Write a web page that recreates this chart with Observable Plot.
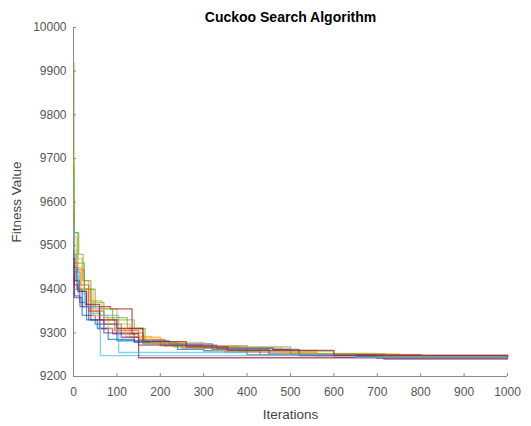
<!DOCTYPE html>
<html><head><meta charset="utf-8">
<script src="https://cdn.jsdelivr.net/npm/d3@7"></script>
<script src="https://cdn.jsdelivr.net/npm/@observablehq/plot@0.6"></script>
<style>body{margin:0;background:#fff}</style>
</head><body><div id="chart"></div>
<script>
const title = "Cuckoo Search Algorithm";
const xLabel = "Iterations";
const yLabel = "Fitness Value";
const xTicks = [0,100,200,300,400,500,600,700,800,900,1000];
const yTicks = [9200,9300,9400,9500,9600,9700,9800,9900,10000];
const colors = ["#0072BD","#D95319","#EDB120","#7E2F8E","#77AC30","#4DBEEE","#A2142F",
                "#0072BD","#D95319","#EDB120","#7E2F8E","#77AC30","#4DBEEE","#A2142F"];

// [iteration, best fitness] change points of each run (step-after)
const run01 = [[0,9600],[1,9480],[6,9420],[14,9370],[30,9330],[55,9310],[80,9285],[140,9278],[240,9262],[300,9259],[430,9250],[700,9242],[1000,9242]];
const run02 = [[0,9560],[1,9460],[10,9445],[25,9400],[40,9350],[70,9320],[110,9300],[160,9275],[250,9265],[350,9256],[560,9248],[800,9244],[1000,9244]];
const run03 = [[0,9700],[1,9520],[8,9470],[20,9420],[35,9374],[65,9355],[100,9320],[130,9290],[200,9270],[320,9260],[560,9252],[750,9246],[1000,9246]];
const run04 = [[0,9480],[2,9381],[20,9360],[40,9330],[60,9310],[90,9298],[140,9280],[200,9272],[300,9265],[460,9262],[500,9250],[715,9240],[1000,9240]];
const run05 = [[0,9920],[1,9530],[12,9480],[22,9420],[40,9370],[70,9335],[124,9310],[165,9280],[230,9268],[380,9258],[600,9248],[1000,9245]];
const run06 = [[0,9650],[1,9450],[10,9400],[25,9365],[45,9345],[62,9248],[600,9244],[1000,9244]];
const run07 = [[0,9520],[2,9420],[12,9395],[30,9360],[85,9355],[135,9298],[150,9243],[1000,9243]];
const run08 = [[0,9580],[1,9450],[8,9400],[20,9340],[50,9320],[100,9282],[220,9275],[320,9262],[450,9252],[650,9246],[1000,9244]];
const run09 = [[0,9500],[2,9440],[15,9410],[35,9350],[60,9330],[95,9305],[150,9285],[210,9270],[400,9250],[800,9245],[1000,9245]];
const run10 = [[0,9620],[1,9490],[7,9450],[18,9400],[45,9340],[80,9310],[120,9292],[180,9278],[300,9265],[480,9253],[700,9247],[1000,9246]];
const run11 = [[0,9450],[2,9385],[15,9360],[35,9330],[70,9300],[110,9290],[150,9272],[330,9265],[460,9262],[520,9248],[1000,9243]];
const run12 = [[0,9680],[1,9530],[10,9460],[25,9400],[50,9355],[90,9330],[140,9310],[160,9275],[260,9268],[500,9252],[720,9246],[1000,9245]];
const run13 = [[0,9540],[2,9430],[12,9390],[28,9360],[60,9340],[104,9255],[400,9250],[650,9244],[1000,9244]];
const run14 = [[0,9470],[2,9410],[10,9395],[30,9365],[60,9330],[100,9310],[160,9280],[260,9268],[355,9260],[600,9249],[1000,9246]];

const runs = [run01,run02,run03,run04,run05,run06,run07,run08,run09,run10,run11,run12,run13,run14];
const data = runs.flatMap((r, i) => r.map(([it, v]) => ({run: i, it, v})));

const chart = Plot.plot({
  width: 531, height: 426,
  marginLeft: 73, marginRight: 24, marginTop: 27, marginBottom: 50,
  style: {fontFamily: "'Liberation Sans', Arial, Helvetica, sans-serif", fontSize: "12px", background: "#fff", color: "#444"},
  x: {domain: [0, 1000], label: null},
  y: {domain: [9200, 10000], label: null},
  color: {type: "ordinal", domain: d3.range(runs.length), range: colors},
  marks: [
    Plot.ruleX([0], {stroke: "#888"}),
    Plot.ruleY([9200], {stroke: "#888"}),
    Plot.line(data, {x: "it", y: "v", z: "run", stroke: "run", curve: "step-after", strokeWidth: 1.3, strokeOpacity: 0.7}),
    Plot.axisX({ticks: xTicks, label: null, tickSize: -3, tickPadding: 14, stroke: "#888", fill: "#555", fontSize: 12, tickFormat: d => String(d)}),
    Plot.axisX({ticks: [], label: xLabel, labelAnchor: "center", labelArrow: "none", labelOffset: 42, fill: "#444", fontSize: 13.5}),
    Plot.axisY({ticks: yTicks, label: null, tickSize: -3, tickPadding: 10, stroke: "#888", fill: "#555", fontSize: 12, tickFormat: d => String(d)}),
    Plot.axisY({ticks: [], label: yLabel, labelAnchor: "center", labelArrow: "none", labelOffset: 62, fill: "#444", fontSize: 13.5}),
    Plot.text([title], {frameAnchor: "top", dy: -15, fontWeight: "bold", fontSize: 14, fill: "#000"})
  ]
});
document.getElementById("chart").appendChild(chart);
</script>
</body></html>
